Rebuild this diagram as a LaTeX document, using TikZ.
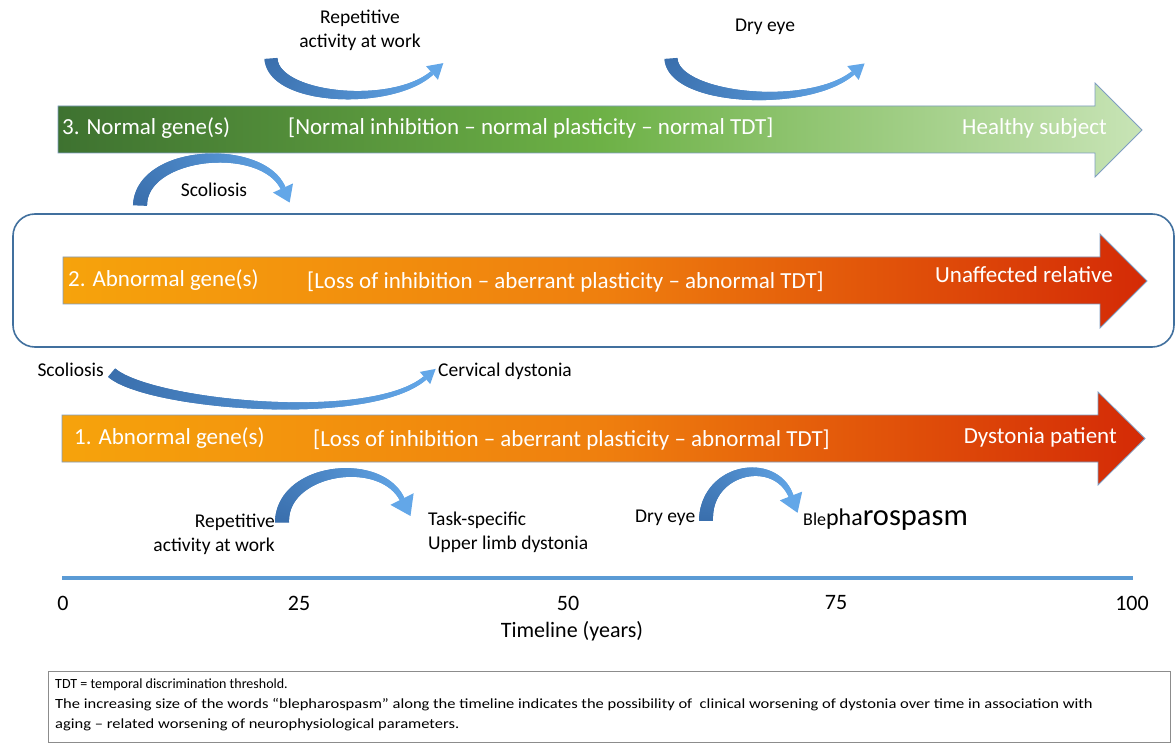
\documentclass[tikz,border=0pt]{standalone}
\usepackage{fontspec}
\setmainfont{Carlito}
\usetikzlibrary{decorations.markings,calc}
\definecolor{cdark}{HTML}{3A6FAD}
\definecolor{clight}{HTML}{63A7E8}
\definecolor{gdark}{HTML}{3E7230}
\definecolor{gmid}{HTML}{6DB146}
\definecolor{glight}{HTML}{C8E4B6}
\definecolor{oleft}{HTML}{F6A30C}
\definecolor{omid}{HTML}{EF7F0E}
\definecolor{oright}{HTML}{D42A06}
\definecolor{edgec}{HTML}{7E9DC2}
\definecolor{boxc}{HTML}{41709E}
\definecolor{tlinec}{HTML}{5B9BD5}
\definecolor{footc}{HTML}{8C8C8C}
\tikzset{
  taper/.style 2 args={decorate, decoration={markings,
    mark=between positions 0 and 1 step 0.5pt with {%
      \pgfmathsetmacro\tfr{\pgfkeysvalueof{/pgf/decoration/mark info/distance from start}/\pgfdecoratedpathlength}%
      \pgfmathsetmacro\tw{#1-(#1-#2)*\tfr}%
      \pgfmathsetmacro\tp{100*\tfr}%
      \fill[fill=clight!\tp!cdark] (-0.6pt,-\tw pt) rectangle (0.6pt,\tw pt);%
    }}},
  lbl/.style={inner sep=0pt, font=\fontsize{19.5}{24}\selectfont, text=black},
  atxt/.style={inner sep=0pt, font=\fontsize{23}{27}\selectfont, text=white},
  numl/.style={inner sep=0pt, font=\fontsize{22}{26}\selectfont, text=black},
  bigarrow/.style={draw=edgec, line width=0.8pt},
}
% #1 start, #2 c1, #3 c2, #4 end (head base), #5 w0, #6 w1, #7 head half width, #8 head length
\newcommand{\curvarrow}[8]{%
  \path[taper={#5}{#6}] (#1) .. controls (#2) and (#3) .. (#4);
  \fill[clight] ($(#4)!#7pt!90:(#3)$) -- ($(#4)!-#8pt!(#3)$) -- ($(#4)!#7pt!-90:(#3)$) -- cycle;
}
\begin{document}
\begin{tikzpicture}[x=1pt,y=-1pt]
\useasboundingbox (0,0) rectangle (1176,743);
\fill[white] (0,0) rectangle (1176,743);

% rounded box around row 2
\draw[boxc, line width=1.6pt, rounded corners=22pt] (13,214) rectangle (1174,347);

% big arrows
\shade[bigarrow, left color=gdark, right color=glight, middle color=gmid]
  (58,106) -- (1095,106) -- (1095,83) -- (1142,130) -- (1095,177) -- (1095,153) -- (58,153) -- cycle;
\shade[bigarrow, left color=oleft, right color=oright, middle color=omid]
  (63,257) -- (1100,257) -- (1100,234) -- (1147,281) -- (1100,328) -- (1100,304) -- (63,304) -- cycle;
\shade[bigarrow, left color=oleft, right color=oright, middle color=omid]
  (62,415) -- (1098,415) -- (1098,392) -- (1145,438.5) -- (1098,485) -- (1098,462) -- (62,462) -- cycle;

% arrow texts
\node[atxt, anchor=west] (g3) at (62,128) {3. Normal gene(s)};
\node[atxt, anchor=west] (m3) at (288,128) {[Normal inhibition – normal plasticity – normal TDT]};
\node[atxt, anchor=east] (h3) at (1107,128) {Healthy subject};
\node[atxt, anchor=west] (g2) at (68,280) {2. Abnormal gene(s)};
\node[atxt, anchor=west] (m2) at (307,282) {[Loss of inhibition – aberrant plasticity – abnormal TDT]};
\node[atxt, anchor=east] (h2) at (1113,275) {Unaffected relative};
\node[atxt, anchor=west] (g1) at (74,438) {1. Abnormal gene(s)};
\node[atxt, anchor=west] (m1) at (313,440) {[Loss of inhibition – aberrant plasticity – abnormal TDT]};
\node[atxt, anchor=east] (h1) at (1117,437) {Dystonia patient};

% labels
\node[lbl, align=center] (rw3) at (360,30) {Repetitive\\activity at work};
\node[lbl] (de3) at (765,27) {Dry eye};
\node[lbl] (sc3) at (214,190) {Scoliosis};
\node[lbl, anchor=east] (sc1) at (104,370) {Scoliosis};
\node[lbl, anchor=west] (cd1) at (438,371) {Cervical dystonia};
\node[lbl, align=right, anchor=east] (rw1) at (275,534) {Repetitive\\activity at work};
\node[lbl, align=left, anchor=west] (ts1) at (428,532) {Task-specific\\Upper limb dystonia};
\node[lbl, anchor=west] (de1) at (635,518) {Dry eye};
\node[inner sep=0pt, anchor=base west] (bl1) at (803,525) {{\fontsize{18}{20}\selectfont Ble}{\fontsize{24}{26}\selectfont pha}{\fontsize{30.5}{32}\selectfont rospasm}};

% curved arrows
\coordinate (a3s) at (271,59);  \coordinate (a3e) at (432,73);
\coordinate (b3s) at (671,59);  \coordinate (b3e) at (853,73);
\coordinate (c3s) at (140,205); \coordinate (c3e) at (283,188);
\coordinate (d1s) at (112,373); \coordinate (d1e) at (425,378);
\coordinate (e1s) at (282,522); \coordinate (e1e) at (402,499);
\coordinate (f1s) at (706,520); \coordinate (f1e) at (791,496);
\curvarrow{a3s}{274,100}{392,108}{a3e}{6.5}{2}{9}{15}
\curvarrow{b3s}{674,100}{808,110}{b3e}{6.5}{2}{9}{15}
\curvarrow{c3s}{142,150}{262,142}{c3e}{7}{2.5}{11}{16}
\curvarrow{d1s}{150,405}{370,425}{d1e}{5.5}{2}{8}{14}
\curvarrow{e1s}{282,468}{380,455}{e1e}{7}{2.5}{13}{19}
\curvarrow{f1s}{706,468}{775,455}{f1e}{7}{2.5}{12}{18}

% timeline
\coordinate (t0) at (62,578); \coordinate (t1) at (1133,578);
\draw[tlinec, line width=4pt] (t0) -- (t1);
\node[numl] (n0) at (63,603) {0};
\node[numl] (n25) at (299,603) {25};
\node[numl] (n50) at (568,603) {50};
\node[numl] (n75) at (836,603) {75};
\node[numl] (n100) at (1132,603) {100};
\node[numl] (tl) at (572,631) {Timeline (years)};

% footer
\draw[footc, line width=0.8pt] (48,671) rectangle (1170,742);
\node[inner sep=0pt, anchor=north west, align=left, font=\fontsize{14}{20}\selectfont] (foot) at (55,679)
 {TDT = temporal discrimination threshold.\\
  \scalebox{1.18}[1]{The increasing size of the words “blepharospasm” along the timeline indicates the possibility of \ clinical worsening of dystonia over time in association with}\\
  \scalebox{1.18}[1]{aging – related worsening of neurophysiological parameters.}};
\end{tikzpicture}
\end{document}
